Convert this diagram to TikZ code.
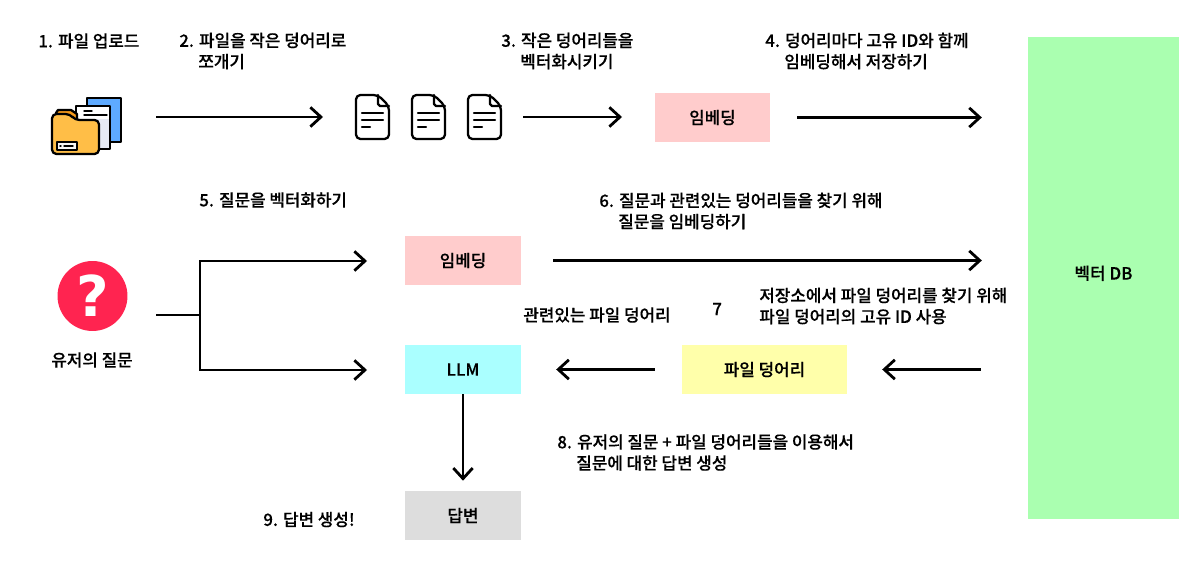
\documentclass[tikz,border=0pt]{standalone}
\usepackage{fontspec}
\setmainfont{Noto Sans CJK KR Medium}[FakeBold=0.25]
\newfontfamily\markfont{DejaVu Sans Bold}
\usetikzlibrary{arrows.meta}
\definecolor{pinkbox}{HTML}{FFCCCC}
\definecolor{cyanbox}{HTML}{AAFFFF}
\definecolor{yellowbox}{HTML}{FFFFAA}
\definecolor{greybox}{HTML}{DDDDDD}
\definecolor{greenbox}{HTML}{AAFFB0}
\definecolor{folderfill}{HTML}{FFBE47}
\definecolor{foldertab}{HTML}{F59A1B}
\definecolor{pageblue}{HTML}{5EAAFF}
\definecolor{pagewhite}{HTML}{E6EAF5}
\definecolor{markred}{HTML}{FF2450}
\tikzset{
	arrow/.style = {line width=1.6pt,-{Straight Barb[length=6pt,width=11pt,line width=1.6pt]}},
	wire/.style = {line width=1.6pt},
	stepbox/.style = {minimum height=0.98cm,inner sep=0pt,font=\fontsize{9.6pt}{11pt}\selectfont},
	caption/.style = {anchor=west,inner sep=0pt,align=left,font=\fontsize{9.6pt}{12pt}\selectfont},
	icon/.style = {line width=1.3pt,line join=round,line cap=round},
}
\begin{document}
\begin{tikzpicture}[x=0.02cm,y=-0.02cm]
	\useasboundingbox (0,0) rectangle (1200,570);

	% boxes
	\node[stepbox,fill=greenbox,minimum width=3.02cm,minimum height=9.66cm] (db) at (1103.5,278) {\raisebox{-0.9pt}[0pt][0pt]{벡터 DB}};
	\node[stepbox,fill=pinkbox,minimum width=2.3cm] (embedtop) at (712.5,117.5) {임베딩};
	\node[stepbox,fill=pinkbox,minimum width=2.32cm] (embedmid) at (463,260.5) {임베딩};
	\node[stepbox,fill=cyanbox,minimum width=2.32cm] (llm) at (463,369.5) {LLM};
	\node[stepbox,fill=yellowbox,minimum width=3.3cm] (chunk) at (764.5,369.5) {파일 덩어리};
	\node[stepbox,fill=greybox,minimum width=2.32cm] (answer) at (463,515.5) {답변};

	% captions
	\node[caption] (capa) at (38,41) {1. 파일 업로드};
	\node[caption] (capb) at (179,51) {2. 파일을 작은 덩어리로\\\hspace{0.38cm}쪼개기};
	\node[caption] (capc) at (501,51) {3. 작은 덩어리들을\\\hspace{0.38cm}벡터화시키기};
	\node[caption] (capd) at (765,51) {4. 덩어리마다 고유 ID와 함께\\\hspace{0.38cm}임베딩해서 저장하기};
	\node[caption] (cape) at (199,200) {5. 질문을 벡터화하기};
	\node[caption] (capf) at (599,211) {6. 질문과 관련있는 덩어리들을 찾기 위해\\\hspace{0.38cm}질문을 임베딩하기};
	\node[caption] (capg) at (523,315) {관련있는 파일 덩어리};
	\node[caption] (caph) at (712,309) {7};
	\node[caption] (capi) at (759,306) {저장소에서 파일 덩어리를 찾기 위해\\파일 덩어리의 고유 ID 사용};
	\node[caption] (capj) at (557,452.5) {8. 유저의 질문 + 파일 덩어리들을 이용해서\\\hspace{0.38cm}질문에 대한 답변 생성};
	\node[caption] (capk) at (263,519.5) {9. 답변 생성!};

	% folder icon
	\draw[icon,fill=pageblue] (87,98) rectangle (121,142);
	\draw[icon,fill=pagewhite] (76,106) rectangle (110,149);
	\fill[white] (77,107) rectangle (109,119);
	\draw[icon,line width=0.8pt] (84,111) -- (92,111) (84,115) -- (107,115);
	\draw[icon,fill=foldertab] (56,118) -- (56,113) -- (58,110) -- (71,110) -- (77,114) -- (77,120) -- cycle;
	\draw[icon,fill=folderfill,rounded corners=2.5pt] (52,154) -- (52,114) -- (70,114) -- (75,120) -- (99,120) -- (99,154) -- cycle;
	\draw[icon,fill=greybox!30,line width=1pt] (57,142) rectangle (77,150);
	\draw[icon,line width=0.8pt] (60,146) -- (61,146) (64,146) -- (73,146);

	% document icons
	\foreach \x in {356,412,468}{
		\draw[icon,rounded corners=2.5pt] (\x+22,95) -- (\x,95) -- (\x,139) -- (\x+33,139) -- (\x+33,106) -- cycle;
		\draw[icon] (\x+22,95) -- (\x+22,104) -- (\x+24,106) -- (\x+33,106);
		\draw[icon] (\x+6,113) -- (\x+27,113);
		\draw[icon] (\x+6,120) -- (\x+27,120);
		\draw[icon] (\x+6,127) -- (\x+14,127);
	}

	% question mark and its label
	\node[circle,fill=markred,minimum size=1.4cm,inner sep=0pt,text=white,font=\markfont\fontsize{32pt}{32pt}\selectfont] (question) at (92.5,296) {?};
	\node[inner sep=0pt,font=\fontsize{9.6pt}{11pt}\selectfont] (questionlabel) at (92,360) {유저의 질문};

	% free ends
	\coordinate (foldergo) at (156,117);
	\coordinate (docsin) at (323,117);
	\coordinate (docsout) at (523,117);
	\coordinate (embedin) at (622,117);
	\coordinate (questionout) at (156,315);
	\coordinate (fork) at (200,315);
	\coordinate (forktop) at (367,261);
	\coordinate (forkbottom) at (367,370);

	% arrows
	\draw[arrow] (foldergo) -- (docsin);
	\draw[arrow] (docsout) -- (embedin);
	\draw[arrow,shorten <=27pt*0.567,shorten >=46pt*0.567] (embedtop.east) -- (embedtop.east -| db.west);
	\draw[wire] (questionout) -- (fork);
	\draw[arrow] (fork) |- (forktop);
	\draw[arrow] (fork) |- (forkbottom);
	\draw[arrow,shorten <=32pt*0.567,shorten >=46pt*0.567] (embedmid.east) -- (embedmid.east -| db.west);
	\draw[arrow,shorten <=47pt*0.567,shorten >=35pt*0.567] (chunk.east -| db.west) -- (chunk.east);
	\draw[arrow,shorten <=27pt*0.567,shorten >=35pt*0.567] (chunk.west) -- (llm.east);
	\draw[arrow,shorten >=10pt*0.567] (llm.south) -- (answer.north);
\end{tikzpicture}
\end{document}
